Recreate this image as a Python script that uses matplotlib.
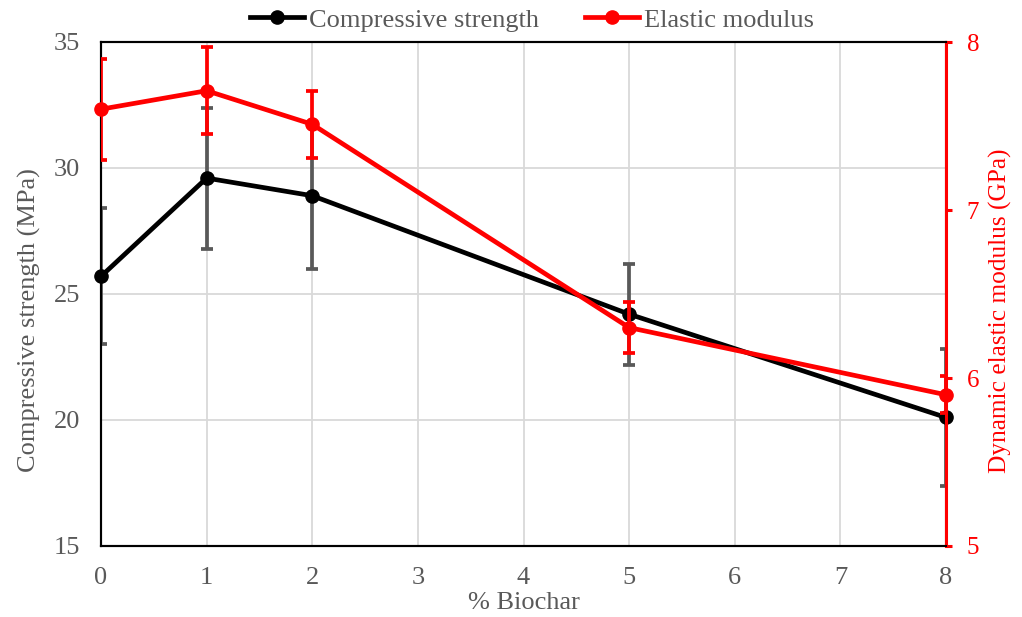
import matplotlib
matplotlib.use("Agg")
import matplotlib.pyplot as plt
from matplotlib.lines import Line2D

biochar = [0, 1, 2, 5, 8]
comp_strength = [25.7, 29.6, 28.9, 24.2, 20.1]
comp_err = [2.7, 2.8, 2.9, 2.0, 2.7]
elastic_mod = [7.60, 7.71, 7.51, 6.30, 5.90]
elastic_err = [0.30, 0.26, 0.20, 0.15, 0.11]

plt.rcParams['font.family'] = ['Liberation Serif', 'DejaVu Serif']
GRAY = '#595959'
RED = '#ff0000'
FS = 19

W, H = 1022, 617
L, R, T, B = 101, 946, 42, 546

fig = plt.figure(figsize=(W/100, H/100), dpi=100)
ax = fig.add_axes([L/W, 1-B/H, (R-L)/W, (B-T)/H])
ax2 = ax.twinx()

ax.set_xlim(0, 8)
ax.set_ylim(15, 35)
ax2.set_ylim(5, 8)
ax.set_xticks(range(0, 9))
ax.set_yticks([15, 20, 25, 30, 35])
ax2.set_yticks([5, 6, 7, 8])

ax.grid(True, color='#d9d9d9', linewidth=1.3)
ax.set_axisbelow(True)

# black series
ax.errorbar(biochar, comp_strength, yerr=comp_err, fmt='none', ecolor=GRAY,
            elinewidth=2.7, capsize=4.5, capthick=2.7, zorder=3)
ax.plot(biochar, comp_strength, color='black', lw=3.4, marker='o', ms=9.5,
        clip_on=False, zorder=4)

# red series
ax2.errorbar(biochar, elastic_mod, yerr=elastic_err, fmt='none', ecolor=RED,
             elinewidth=2.7, capsize=4.5, capthick=2.7, zorder=3)
ax2.plot(biochar, elastic_mod, color=RED, lw=3.4, marker='o', ms=9.5,
         clip_on=False, zorder=4)

for a in (ax, ax2):
    for s in a.spines.values():
        s.set_linewidth(1.5)
        s.set_color('black')
ax2.spines['right'].set_color(RED)
ax2.spines['right'].set_linewidth(2.2)

ax.tick_params(axis='both', length=0, labelsize=FS, labelcolor=GRAY)
ax.tick_params(axis='y', pad=15)
ax.tick_params(axis='x', pad=15)
ax2.tick_params(axis='y', length=4, width=2.2, color=RED, labelsize=18,
                labelcolor=RED, pad=11)

ax.set_xlabel('% Biochar', fontsize=FS, color=GRAY, va='center')
ax.xaxis.set_label_coords(0.5, (B-603)/(B-T))
ax.set_ylabel('Compressive strength (MPa)', fontsize=FS, color=GRAY,
              va='center', ha='center')
ax.yaxis.set_label_coords((29-L)/(R-L), (B-320)/(B-T))
ax2.set_ylabel('Dynamic elastic modulus (GPa)', fontsize=18.3, color=RED,
               va='center', ha='center')
ax2.yaxis.set_label_coords((1000-L)/(R-L), (B-311)/(B-T))

handles = [Line2D([], [], color='black', lw=3.4, marker='o', ms=9.5),
           Line2D([], [], color=RED, lw=3.4, marker='o', ms=9.5)]
leg = fig.legend(handles, ['Compressive strength', 'Elastic modulus'],
                 loc='center', bbox_to_anchor=(532/W, 1-20/H), ncol=2,
                 frameon=False, fontsize=FS, handlelength=2.05,
                 handletextpad=0.2, columnspacing=1.75, borderpad=0)
for t in leg.get_texts():
    t.set_color(GRAY)

fig.savefig('out.png', dpi=100)
